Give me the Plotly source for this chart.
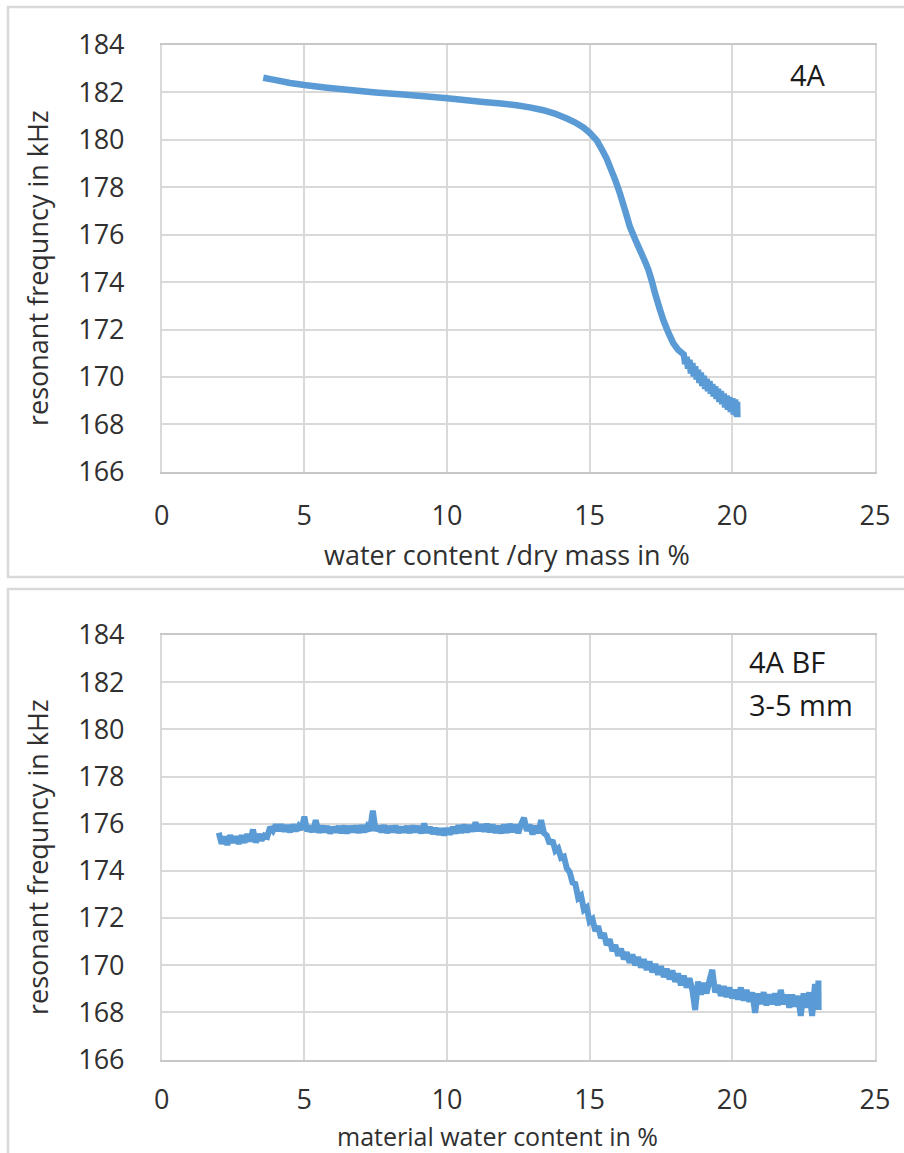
import plotly.graph_objects as go

# ---------------- data: panel 1 (4A) ----------------
x_4a = [3.56, 4.0, 4.5, 5.0, 5.8, 6.6, 7.5, 8.35, 9.2, 10.0, 10.6, 11.27, 11.9, 12.44, 12.9,
        13.38, 13.8, 14.2, 14.5, 14.78, 15.0, 15.25, 15.45, 15.6, 15.71, 15.9, 16.06, 16.25,
        16.41, 16.6, 16.76, 16.95, 17.06, 17.18, 17.29, 17.45, 17.58, 17.75, 17.93, 18.1,
        18.3, 18.35, 18.4, 18.45, 18.5, 18.55, 18.6, 18.65, 18.7, 18.75, 18.8, 18.85, 18.9,
        18.95, 19.0, 19.05, 19.1, 19.15, 19.2, 19.25, 19.3, 19.35, 19.4, 19.45, 19.5, 19.55,
        19.6, 19.65, 19.7, 19.75, 19.8, 19.85, 19.9, 19.95, 20.0, 20.05, 20.1, 20.15, 20.17,
        20.18]
y_4a = [182.62, 182.52, 182.4, 182.31, 182.2, 182.1, 182.0, 181.92, 181.84, 181.75, 181.68,
        181.6, 181.53, 181.46, 181.37, 181.25, 181.1, 180.9, 180.73, 180.52, 180.3, 179.98,
        179.55, 179.2, 178.87, 178.3, 177.75, 177.0, 176.34, 175.8, 175.36, 174.85, 174.52,
        174.05, 173.54, 172.9, 172.41, 171.9, 171.43, 171.15,
        170.95, 170.55, 170.85, 170.35, 170.72, 170.15, 170.58, 170.02, 170.45, 169.9, 170.3,
        169.75, 170.18, 169.62, 170.05, 169.5, 169.92, 169.4, 169.82, 169.3, 169.7, 169.18,
        169.6, 169.08, 169.5, 168.95, 169.4, 168.85, 169.3, 168.72, 169.22, 168.62, 169.15,
        168.52, 169.1, 168.42, 169.05, 168.35, 168.95, 168.3]

# ---------------- data: panel 2 (4A BF 3-5 mm) ----------------
x_bf = [2.0, 2.1, 2.2, 2.3, 2.4, 2.5, 2.6, 2.7, 2.8, 2.9,
        3.0, 3.1, 3.2, 3.3, 3.4, 3.5, 3.6, 3.7, 3.8, 3.9,
        4.0, 4.1, 4.2, 4.3, 4.4, 4.5, 4.6, 4.7, 4.8, 4.9,
        5.0, 5.1, 5.2, 5.3, 5.4, 5.5, 5.6, 5.7, 5.8, 5.9,
        6.0, 6.1, 6.2, 6.3, 6.4, 6.5, 6.6, 6.7, 6.8, 6.9,
        7.0, 7.1, 7.2, 7.3, 7.4, 7.5, 7.6, 7.7, 7.8, 7.9,
        8.0, 8.1, 8.2, 8.3, 8.4, 8.5, 8.6, 8.7, 8.8, 8.9,
        9.0, 9.1, 9.2, 9.3, 9.4, 9.5, 9.6, 9.7, 9.8, 9.9,
        10.0, 10.1, 10.2, 10.3, 10.4, 10.5, 10.6, 10.7, 10.8, 10.9,
        11.0, 11.1, 11.2, 11.3, 11.4, 11.5, 11.6, 11.7, 11.8, 11.9,
        12.0, 12.1, 12.2, 12.3, 12.4, 12.5, 12.6, 12.7, 12.8, 12.9,
        13.0, 13.1, 13.2, 13.3, 13.4, 13.5, 13.6, 13.7, 13.8, 13.9,
        14.0, 14.1, 14.2, 14.3, 14.4, 14.5, 14.6, 14.7, 14.8, 14.9,
        15.0, 15.1, 15.2, 15.3, 15.4, 15.5, 15.6, 15.7, 15.8, 15.9,
        16.0, 16.1, 16.2, 16.3, 16.4, 16.5, 16.6, 16.7, 16.8, 16.9,
        17.0, 17.1, 17.2, 17.3, 17.4, 17.5, 17.6, 17.7, 17.8, 17.9,
        18.0, 18.1, 18.2, 18.3, 18.4, 18.5, 18.6, 18.7, 18.8, 18.9,
        19.0, 19.1, 19.2, 19.3, 19.4, 19.5, 19.6, 19.7, 19.8, 19.9,
        20.0, 20.1, 20.2, 20.3, 20.4, 20.5, 20.6, 20.7, 20.8, 20.9,
        21.0, 21.1, 21.2, 21.3, 21.4, 21.5, 21.6, 21.7, 21.8, 21.9,
        22.0, 22.1, 22.2, 22.3, 22.4, 22.5, 22.6, 22.7, 22.8, 22.9,
        23.0, 23.02, 23.03]
y_bf = [175.62, 175.15, 175.45, 175.1, 175.5, 175.2, 175.45, 175.15, 175.5, 175.2,
        175.55, 175.25, 175.75, 175.2, 175.55, 175.3, 175.5, 175.45, 175.85, 175.7,
        175.95, 175.7, 175.95, 175.68, 175.92, 175.65, 175.95, 175.7, 175.9, 175.75,
        176.3, 175.68, 175.9, 175.65, 176.15, 175.62, 175.9, 175.65, 175.88, 175.6,
        175.85, 175.65, 175.88, 175.62, 175.9, 175.6, 175.88, 175.65, 175.9, 175.62,
        175.92, 175.65, 175.88, 175.7, 176.55, 175.7, 175.9, 175.65, 175.92, 175.62,
        175.88, 175.65, 175.9, 175.62, 175.85, 175.65, 175.88, 175.62, 175.9, 175.65,
        175.88, 175.6, 176.0, 175.62, 175.85, 175.58, 175.8, 175.55, 175.78, 175.52,
        175.8, 175.55, 175.85, 175.6, 175.92, 175.62, 175.95, 175.65, 175.92, 175.68,
        176.05, 175.7, 175.95, 175.68, 175.98, 175.65, 175.95, 175.62, 175.9, 175.6,
        175.95, 175.62, 175.98, 175.65, 175.95, 175.6, 175.98, 176.25, 175.7, 175.95,
        175.55, 175.9, 175.6, 176.15, 175.6, 175.5, 175.15, 175.3, 174.85, 174.95,
        174.55, 174.6, 174.1, 173.95, 173.5, 173.45, 172.85, 172.95, 172.35, 172.45,
        171.85, 171.95, 171.45, 171.65, 171.15, 171.35, 170.85, 171.1, 170.6, 170.85,
        170.4, 170.7, 170.25, 170.55, 170.1, 170.45, 170.0, 170.35, 169.9, 170.25,
        169.8, 170.15, 169.7, 170.05, 169.6, 169.95, 169.5, 169.85, 169.4, 169.78,
        169.3, 169.65, 169.15, 169.55, 169.05, 169.45, 168.95, 168.1, 169.3, 168.75,
        169.25, 168.8, 169.35, 169.8, 168.85, 169.15, 168.7, 169.1, 168.65, 169.05,
        168.6, 168.95, 168.55, 169.05, 168.5, 168.95, 168.45, 168.85, 167.98, 168.8,
        168.35, 168.85, 168.3, 168.75, 168.35, 168.8, 168.3, 168.95, 168.35, 168.75,
        168.2, 168.75, 168.25, 168.7, 167.85, 168.8, 168.2, 168.85, 167.85, 169.2,
        168.6, 169.35, 168.1]

x_ticks = [0, 5, 10, 15, 20, 25]
y_ticks = [166, 168, 170, 172, 174, 176, 178, 180, 182, 184]

y_title = "resonant frequncy in kHz"
x_title_1 = "water content /dry mass in %"
x_title_2 = "material water content in %"
label_1 = "4A"
label_2a = "4A BF"
label_2b = "3-5 mm"

# ---------------- layout ----------------
W, H = 904, 1153
LINE = "#5B9BD5"
GRID = "#D9D9D9"
TXT = "#303030"
FONT = "Open Sans"

def px(x):
    return x / W

def py(y):
    return 1 - y / H

fig = go.Figure()
fig.add_trace(go.Scatter(x=x_4a, y=y_4a, mode="lines", xaxis="x", yaxis="y",
                         line=dict(color=LINE, width=6.5, simplify=False),
                         showlegend=False, hoverinfo="skip"))
fig.add_trace(go.Scatter(x=x_bf, y=y_bf, mode="lines", xaxis="x2", yaxis="y2",
                         line=dict(color=LINE, width=6, simplify=False),
                         showlegend=False, hoverinfo="skip"))

xdom = [px(161.7), px(874.9)]
ydom1 = [py(471.8), py(45)]
ydom2 = [py(1059.5), py(635)]

def xa(domain, anchor, standoff):
    return dict(domain=domain, anchor=anchor, range=[0, 25], tickvals=x_ticks,
                showgrid=True, gridcolor=GRID, gridwidth=1.5, zeroline=False,
                showline=True, linecolor="#C8C8C8", linewidth=1.5, mirror=True,
                ticks="", ticklabelstandoff=standoff, automargin=False,
                tickfont=dict(family=FONT, size=27, color=TXT), fixedrange=True)

def ya(domain, anchor):
    return dict(domain=domain, anchor=anchor, range=[166, 184], tickvals=y_ticks,
                showgrid=True, gridcolor=GRID, gridwidth=1.5, zeroline=False,
                showline=True, linecolor=GRID, linewidth=1.5, mirror=True,
                ticks="", ticklabelstandoff=30, automargin=False,
                tickfont=dict(family=FONT, size=27, color=TXT), fixedrange=True)

fig.update_layout(
    width=W, height=H,
    margin=dict(l=0, r=0, t=0, b=0, autoexpand=False),
    paper_bgcolor="white", plot_bgcolor="white",
    xaxis=xa(xdom, "y", 19), yaxis=ya(ydom1, "x"),
    xaxis2=xa(xdom, "y2", 15), yaxis2=ya(ydom2, "x2"),
    showlegend=False,
)

# panel borders
fig.add_shape(type="rect", xref="paper", yref="paper",
              x0=px(8), x1=px(910), y0=py(577), y1=py(7),
              line=dict(color=GRID, width=2.5), fillcolor="rgba(0,0,0,0)", layer="below")
fig.add_shape(type="rect", xref="paper", yref="paper",
              x0=px(8), x1=px(910), y0=py(1165), y1=py(589),
              line=dict(color=GRID, width=2.5), fillcolor="rgba(0,0,0,0)", layer="below")

ann = []
ann.append(dict(text=x_title_1, x=px(507), y=py(554), xref="paper", yref="paper",
                showarrow=False, xanchor="center", yanchor="middle",
                font=dict(family=FONT, size=27, color=TXT)))
ann.append(dict(text=x_title_2, x=px(497), y=py(1136), xref="paper", yref="paper",
                showarrow=False, xanchor="center", yanchor="middle",
                font=dict(family=FONT, size=25, color=TXT)))
ann.append(dict(text=y_title, x=px(37), y=py(268), xref="paper", yref="paper",
                showarrow=False, xanchor="center", yanchor="middle", textangle=-90,
                font=dict(family=FONT, size=27, color=TXT)))
ann.append(dict(text=y_title, x=px(37), y=py(857), xref="paper", yref="paper",
                showarrow=False, xanchor="center", yanchor="middle", textangle=-90,
                font=dict(family=FONT, size=27, color=TXT)))
ann.append(dict(text=label_1, x=px(788), y=py(75), xref="paper", yref="paper",
                showarrow=False, xanchor="left", yanchor="middle",
                font=dict(family=FONT, size=29, color="#1a1a1a")))
ann.append(dict(text=label_2a, x=px(747), y=py(661), xref="paper", yref="paper",
                showarrow=False, xanchor="left", yanchor="middle",
                font=dict(family=FONT, size=29, color="#1a1a1a")))
ann.append(dict(text=label_2b, x=px(747), y=py(704), xref="paper", yref="paper",
                showarrow=False, xanchor="left", yanchor="middle",
                font=dict(family=FONT, size=29, color="#1a1a1a")))
fig.update_layout(annotations=ann)

fig.write_html("out.html")
